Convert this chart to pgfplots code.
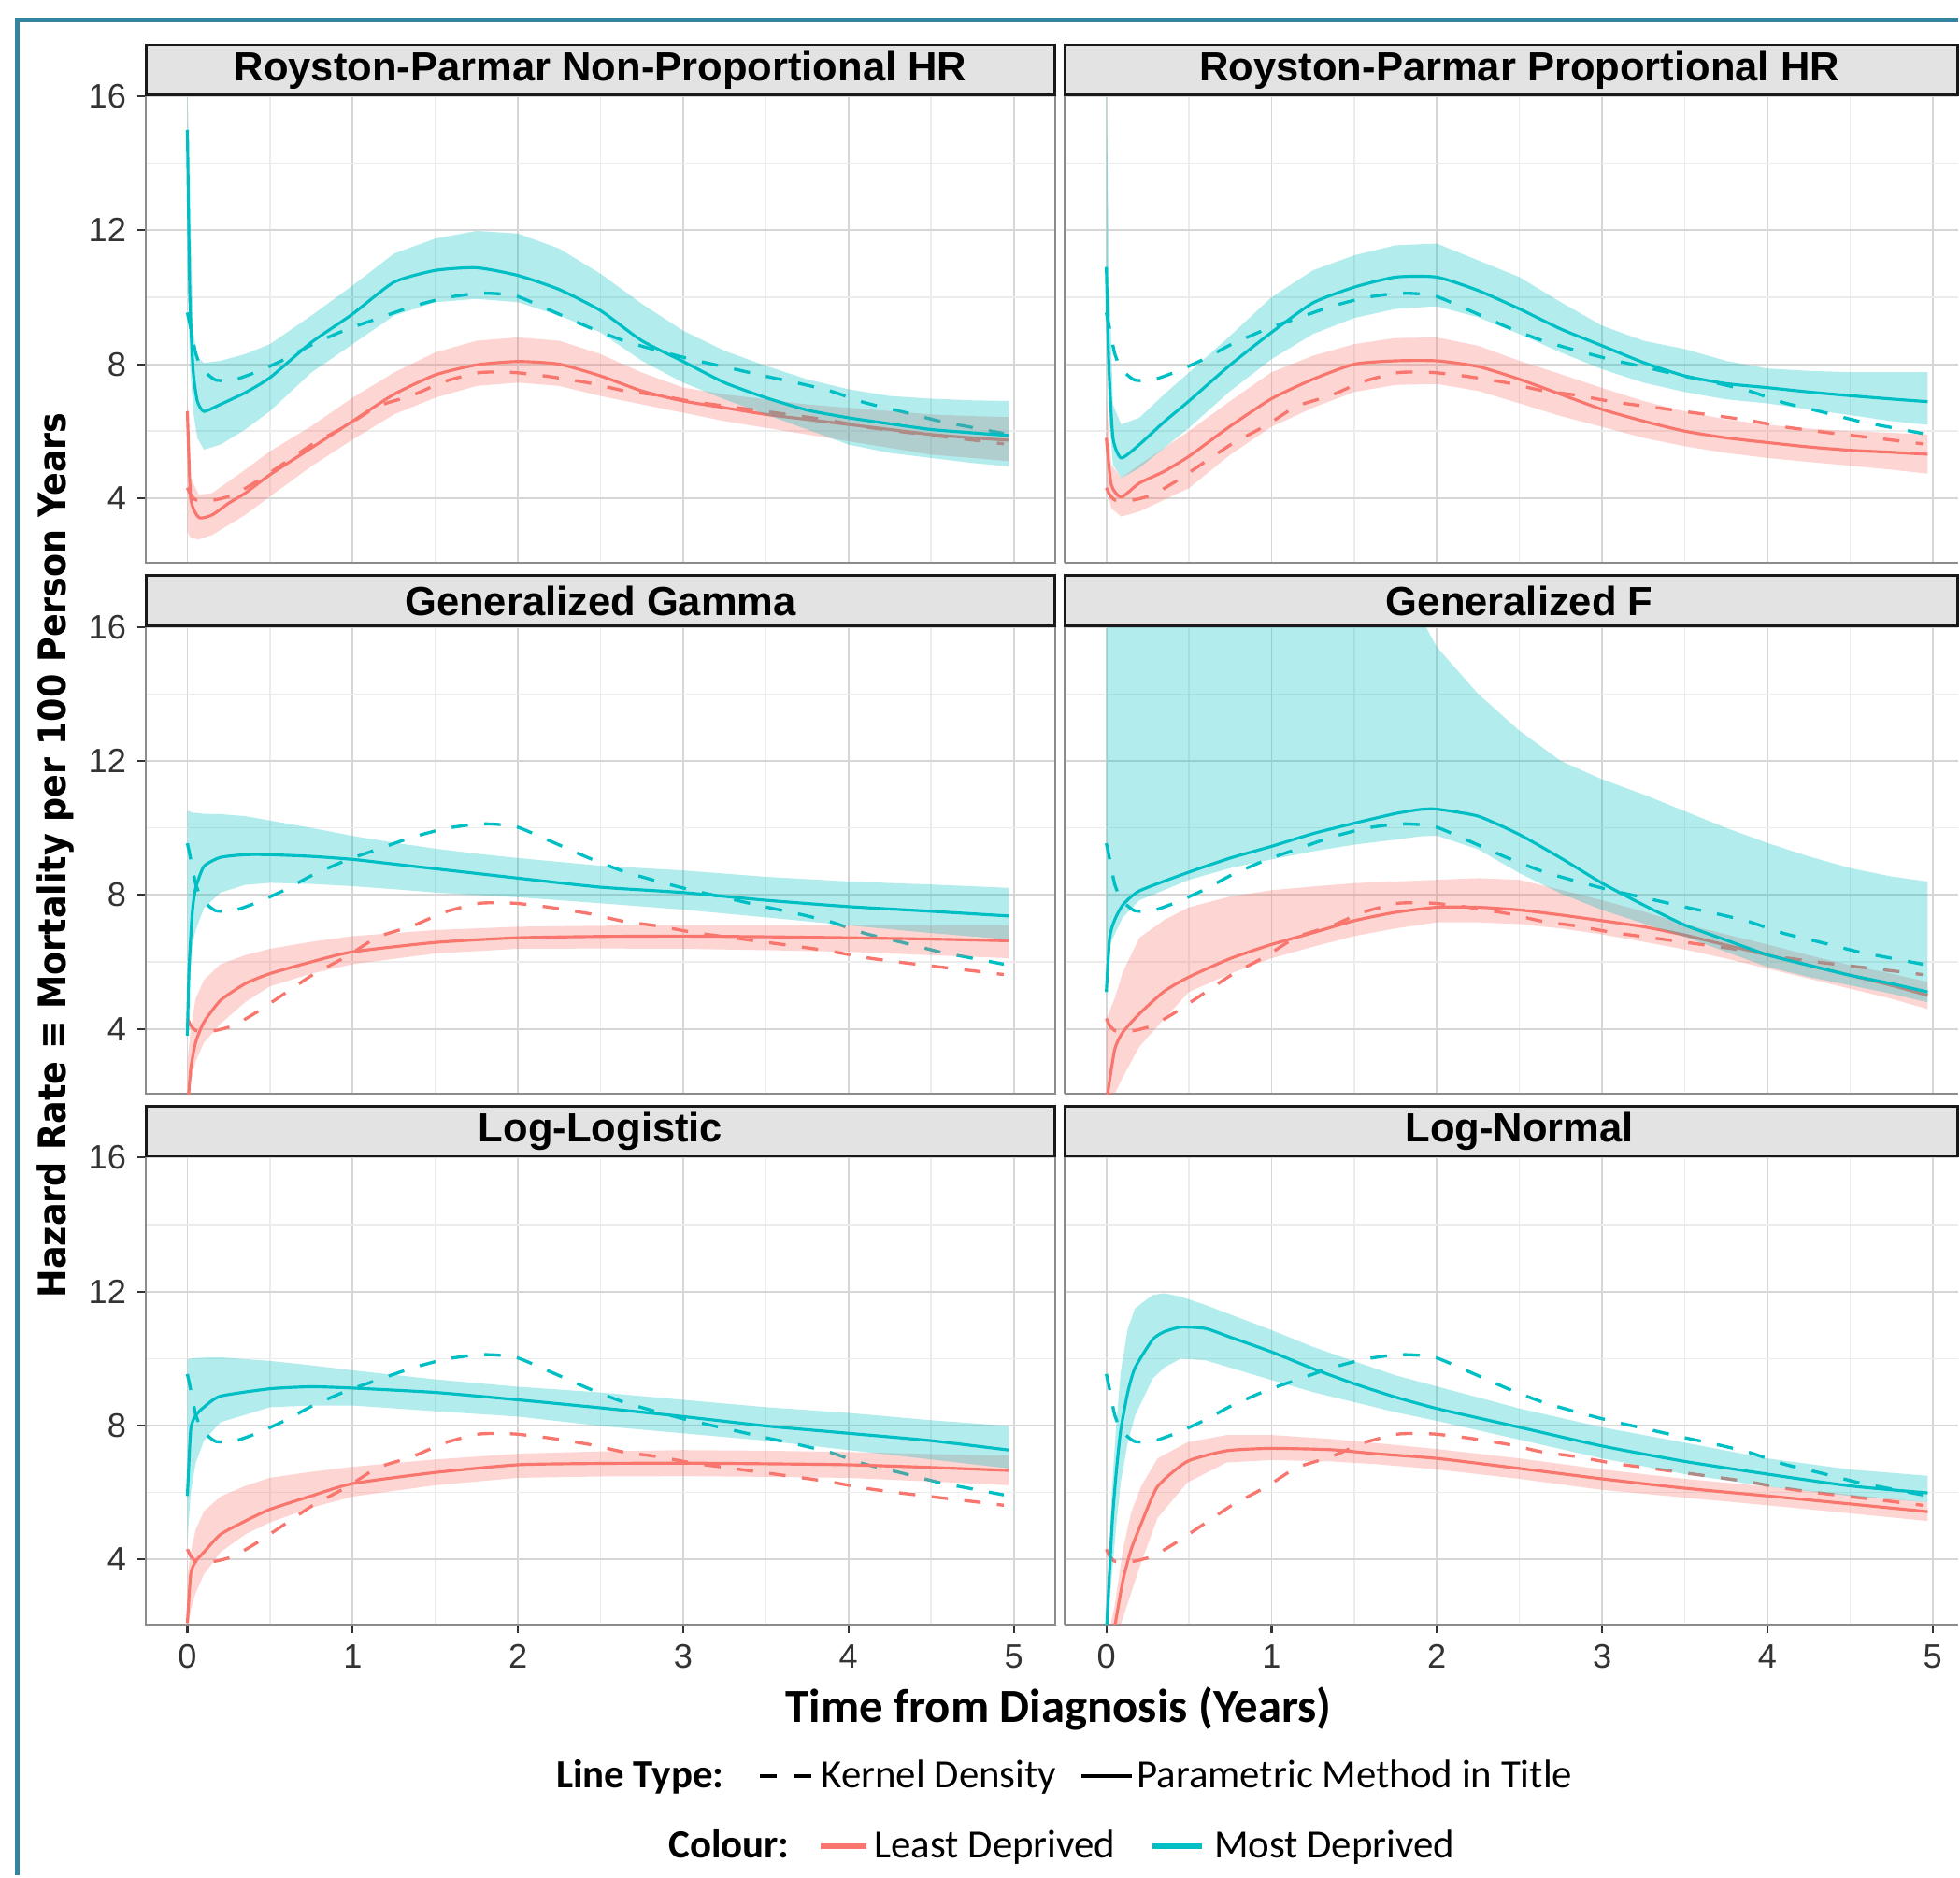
\documentclass[border=0pt]{standalone}
\usepackage{fontspec}
\setmainfont{Liberation Sans}
\newfontfamily\calibri{Carlito}
\newfontfamily\ylabfont{DejaVu Sans}[FakeStretch=0.9]
\usepackage{pgfplots}
\usepackage{pgfplotstable}
\pgfplotsset{compat=1.18}

\definecolor{ggred}{HTML}{F8766D}
\definecolor{ggteal}{HTML}{00BFC4}
\definecolor{stripgray}{HTML}{E3E3E3}
\definecolor{gridmaj}{HTML}{D6D6D6}
\definecolor{gridmin}{HTML}{ECECEC}
\definecolor{framecol}{RGB}{49,133,158}

% kernel density estimate, same in every panel
\pgfplotstableread{
x    red  teal
0.00 4.31 9.54
0.02 4.10 9.07
0.05 3.95 8.33
0.09 3.92 7.86
0.17 3.95 7.53
0.28 4.10 7.53
0.42 4.50 7.77
0.59 5.06 8.15
0.76 5.62 8.60
0.97 6.18 9.05
1.15 6.74 9.36
1.36 7.07 9.72
1.56 7.49 9.98
1.77 7.75 10.12
1.98 7.75 10.05
2.19 7.63 9.62
2.43 7.44 9.10
2.64 7.21 8.70
2.85 7.07 8.40
3.06 6.88 8.13
3.27 6.74 7.90
3.48 6.60 7.66
3.69 6.46 7.44
3.89 6.32 7.20
4.10 6.13 6.85
4.31 5.99 6.60
4.55 5.85 6.30
4.76 5.73 6.10
4.94 5.62 5.93
}\kdetab

\pgfplotsset{
  panel/.style={
    anchor=north west, scale only axis,
    width=9.736cm, height=5.015cm,
    xmin=-0.25, xmax=5.25, ymin=2.06, ymax=16.04,
    xtick={0,1,2,3,4,5}, ytick={4,8,12,16},
    minor xtick={0.5,1.5,2.5,3.5,4.5}, minor ytick={6,10,14},
    grid=both,
    major grid style={draw=gridmaj, line width=0.55pt},
    minor grid style={draw=gridmin, line width=0.45pt},
    axis line style={draw=black!45, line width=0.6pt},
    tick align=outside, tick pos=left,
    major tick length=0.09cm, minor tick length=0pt,
    tick style={black!80, line width=0.6pt},
    ticklabel style={font=\fontsize{10.3}{12}\selectfont, text=black!80},
    /pgf/number format/assume math mode=true,
    every axis title shift=0pt,
    title style={at={(0,1)}, anchor=south west, fill=stripgray, draw=black!90,
      line width=0.8pt, minimum width=9.736cm, minimum height=0.535cm,
      inner sep=0pt, outer sep=0pt,
      font=\fontsize{12.4}{14}\bfseries\selectfont, text=black},
  },
  % right column: cut off at the picture's right edge
  rightcol/.style={
    width=9.562cm, xmax=5.1517,
    axis x line*=box, axis y line*=left,
    yticklabels={}, ytick style={draw=none},
    title style={minimum width=9.562cm},
  },
  notx/.style={xticklabels={}, xtick style={draw=none}},
  ribbon/.style={draw=none, fill=#1, fill opacity=0.3, forget plot},
  fitln/.style={draw=#1, line width=0.9pt, mark=none, line join=round, smooth, tension=0.35},
  kdeln/.style={draw=#1, line width=0.95pt, mark=none, smooth, tension=0.35, dash pattern=on 5pt off 5pt},
}

\begin{document}
\begin{tikzpicture}
\path (0,0) rectangle (20.97,-20.08);

% ---------- Royston-Parmar Non-Proportional HR
\begin{axis}[panel, notx, at={(1.565cm,-1.016cm)}, title={Royston-Parmar Non-Proportional HR}]
\addplot[kdeln=ggred] table[x=x,y=red]{\kdetab};
\addplot[kdeln=ggteal] table[x=x,y=teal]{\kdetab};
\addplot[ribbon=ggred] coordinates {(0,6.9)(0.02,4.6)(0.07,4.1)(0.15,4.15)(0.25,4.5)(0.35,4.85)(0.5,5.4)(0.75,6.15)(1,7)(1.25,7.75)(1.5,8.35)(1.75,8.7)(2,8.8)(2.25,8.7)(2.5,8.3)(2.75,7.75)(3,7.3)(3.25,7.1)(3.5,6.95)(3.75,6.8)(4,6.7)(4.25,6.6)(4.5,6.5)(4.75,6.45)(4.97,6.42)
  (4.97,5.1)(4.75,5.2)(4.5,5.3)(4.25,5.5)(4,5.7)(3.75,5.9)(3.5,6.1)(3.25,6.3)(3,6.55)(2.75,6.8)(2.5,7.05)(2.25,7.35)(2,7.45)(1.75,7.35)(1.5,7)(1.25,6.5)(1,5.75)(0.75,4.95)(0.5,4.05)(0.35,3.5)(0.25,3.2)(0.15,2.9)(0.07,2.77)(0.02,2.8)(0,3.0)};
\addplot[fitln=ggred] coordinates {(0,6.6)(0.02,4.0)(0.07,3.42)(0.15,3.5)(0.25,3.85)(0.35,4.15)(0.5,4.7)(0.75,5.5)(1,6.3)(1.25,7.1)(1.5,7.68)(1.75,7.98)(2,8.08)(2.25,8.0)(2.5,7.65)(2.75,7.2)(3,6.9)(3.25,6.7)(3.5,6.5)(3.75,6.35)(4,6.2)(4.25,6.05)(4.5,5.9)(4.75,5.8)(4.97,5.73)};
\addplot[ribbon=ggteal] coordinates {(0,16.5)(0.015,13)(0.035,9)(0.06,8.2)(0.1,8.04)(0.2,8.1)(0.35,8.3)(0.5,8.6)(0.75,9.45)(1,10.35)(1.25,11.3)(1.5,11.75)(1.75,11.98)(2,11.9)(2.25,11.45)(2.5,10.7)(2.75,9.8)(3,9.0)(3.25,8.4)(3.5,7.95)(3.75,7.55)(4,7.25)(4.25,7.05)(4.5,6.97)(4.75,6.92)(4.97,6.9)
  (4.97,4.95)(4.75,5.05)(4.5,5.2)(4.25,5.35)(4,5.6)(3.75,6.05)(3.5,6.5)(3.25,6.95)(3,7.45)(2.75,8.1)(2.5,8.95)(2.25,9.45)(2,9.85)(1.75,9.95)(1.5,9.85)(1.25,9.45)(1,8.6)(0.75,7.75)(0.5,6.6)(0.35,6.05)(0.2,5.6)(0.1,5.45)(0.06,5.8)(0.035,6.6)(0.015,8)(0,11)};
\addplot[fitln=ggteal] coordinates {(0,15)(0.015,10)(0.035,7.8)(0.06,6.9)(0.1,6.59)(0.2,6.8)(0.35,7.15)(0.5,7.6)(0.75,8.65)(1,9.5)(1.25,10.45)(1.5,10.8)(1.75,10.88)(2,10.65)(2.25,10.23)(2.5,9.6)(2.75,8.7)(3,8.08)(3.25,7.45)(3.5,7.0)(3.75,6.63)(4,6.4)(4.25,6.22)(4.5,6.05)(4.75,5.95)(4.97,5.87)};
\end{axis}

% ---------- Royston-Parmar Proportional HR
\begin{axis}[panel, rightcol, notx, at={(11.408cm,-1.016cm)}, title={\hspace*{0.174cm}Royston-Parmar Proportional HR}]
\addplot[kdeln=ggred] table[x=x,y=red]{\kdetab};
\addplot[kdeln=ggteal] table[x=x,y=teal]{\kdetab};
\addplot[ribbon=ggred] coordinates {(0,7.0)(0.03,5.0)(0.09,4.6)(0.2,5.0)(0.35,5.5)(0.5,6.0)(0.75,6.9)(1,7.76)(1.25,8.25)(1.5,8.6)(1.75,8.78)(2,8.8)(2.25,8.55)(2.5,8.1)(2.75,7.7)(3,7.29)(3.25,6.9)(3.5,6.59)(3.75,6.35)(4,6.19)(4.25,6.08)(4.5,6.0)(4.75,5.95)(4.97,5.9)
  (4.97,4.73)(4.75,4.85)(4.5,4.97)(4.25,5.08)(4,5.2)(3.75,5.35)(3.5,5.55)(3.25,5.8)(3,6.13)(2.75,6.45)(2.5,6.83)(2.25,7.2)(2,7.41)(1.75,7.38)(1.5,7.17)(1.25,6.7)(1,6.13)(0.75,5.3)(0.5,4.3)(0.35,3.95)(0.2,3.6)(0.09,3.45)(0.03,3.7)(0,4.3)};
\addplot[fitln=ggred] coordinates {(0,5.8)(0.03,4.4)(0.09,4.03)(0.2,4.45)(0.35,4.8)(0.5,5.25)(0.75,6.15)(1,6.97)(1.25,7.55)(1.5,8.0)(1.75,8.1)(2,8.1)(2.25,7.93)(2.5,7.55)(2.75,7.1)(3,6.65)(3.25,6.3)(3.5,6.0)(3.75,5.8)(4,5.66)(4.25,5.53)(4.5,5.43)(4.75,5.37)(4.97,5.31)};
\addplot[ribbon=ggteal] coordinates {(0,16.5)(0.015,11)(0.04,6.8)(0.09,6.2)(0.2,6.4)(0.35,7.1)(0.5,7.75)(0.75,8.85)(1,10)(1.25,10.8)(1.5,11.25)(1.75,11.55)(2,11.6)(2.25,11.1)(2.5,10.6)(2.75,9.85)(3,9.15)(3.25,8.7)(3.5,8.45)(3.75,8.1)(4,7.87)(4.25,7.8)(4.5,7.76)(4.75,7.76)(4.97,7.76)
  (4.97,6.19)(4.75,6.3)(4.5,6.48)(4.25,6.65)(4,6.83)(3.75,6.95)(3.5,7.17)(3.25,7.45)(3,7.85)(2.75,8.35)(2.5,8.9)(2.25,9.4)(2,9.73)(1.75,9.65)(1.5,9.38)(1.25,8.9)(1,8.15)(0.75,7.2)(0.5,6.1)(0.35,5.5)(0.2,4.9)(0.09,4.6)(0.04,5.0)(0.015,6.5)(0,9.0)};
\addplot[fitln=ggteal] coordinates {(0,10.9)(0.015,8)(0.04,5.8)(0.09,5.2)(0.2,5.6)(0.35,6.28)(0.5,6.9)(0.75,7.98)(1,8.95)(1.25,9.83)(1.5,10.3)(1.75,10.6)(2,10.6)(2.25,10.2)(2.5,9.65)(2.75,9.05)(3,8.55)(3.25,8.05)(3.5,7.65)(3.75,7.42)(4,7.3)(4.25,7.17)(4.5,7.06)(4.75,6.96)(4.97,6.88)};
\end{axis}

% ---------- Generalized Gamma
\begin{axis}[panel, notx, at={(1.565cm,-6.700cm)}, title={Generalized Gamma}]
\addplot[kdeln=ggred] table[x=x,y=red]{\kdetab};
\addplot[kdeln=ggteal] table[x=x,y=teal]{\kdetab};
\addplot[ribbon=ggred] coordinates {(0,3.0)(0.02,4.0)(0.05,4.9)(0.1,5.46)(0.2,5.93)(0.35,6.2)(0.5,6.39)(0.75,6.6)(1,6.77)(1.5,6.95)(2,7.05)(2.5,7.08)(3,7.09)(3.5,7.09)(4,7.09)(4.5,7.09)(4.97,7.09)
  (4.97,6.11)(4.5,6.2)(4,6.3)(3.5,6.35)(3,6.39)(2.5,6.4)(2,6.39)(1.5,6.25)(1,5.93)(0.75,5.65)(0.5,5.27)(0.35,4.8)(0.2,4.15)(0.1,3.59)(0.05,3.03)(0.02,2.4)(0,1.0)};
\addplot[fitln=ggred] coordinates {(0,1.5)(0.02,2.8)(0.05,3.6)(0.1,4.2)(0.2,4.85)(0.35,5.35)(0.5,5.65)(0.75,6.0)(1,6.3)(1.5,6.58)(2,6.72)(2.5,6.76)(3,6.77)(3.5,6.75)(4,6.72)(4.5,6.68)(4.97,6.63)};
\addplot[ribbon=ggteal] coordinates {(0,10.5)(0.01,10.5)(0.03,10.45)(0.05,10.45)(0.1,10.42)(0.2,10.41)(0.35,10.35)(0.5,10.22)(0.75,10.0)(1,9.76)(1.25,9.56)(1.5,9.38)(1.75,9.23)(2,9.1)(2.5,8.87)(3,8.73)(3.5,8.54)(4,8.4)(4.5,8.31)(4.97,8.21)
  (4.97,6.67)(4.5,6.86)(4,7.09)(3.5,7.33)(3,7.56)(2.5,7.75)(2,7.93)(1.75,8.0)(1.5,8.07)(1.25,8.17)(1,8.26)(0.75,8.33)(0.5,8.36)(0.35,8.3)(0.2,8.07)(0.1,7.6)(0.05,6.95)(0.03,6.5)(0.01,5.0)(0,3.7)};
\addplot[fitln=ggteal] coordinates {(0,3.8)(0.01,5.8)(0.03,7.5)(0.05,8.2)(0.1,8.85)(0.2,9.12)(0.35,9.2)(0.5,9.2)(0.75,9.15)(1,9.06)(1.25,8.92)(1.5,8.78)(1.75,8.64)(2,8.5)(2.5,8.23)(3,8.07)(3.5,7.84)(4,7.65)(4.5,7.51)(4.97,7.37)};
\end{axis}

% ---------- Generalized F
\begin{axis}[panel, rightcol, notx, at={(11.408cm,-6.700cm)}, title={\hspace*{0.174cm}Generalized F}]
\addplot[kdeln=ggred] table[x=x,y=red]{\kdetab};
\addplot[kdeln=ggteal] table[x=x,y=teal]{\kdetab};
\addplot[ribbon=ggred] coordinates {(0,4.28)(0.05,4.9)(0.1,5.7)(0.2,6.72)(0.35,7.25)(0.5,7.63)(0.75,7.95)(1,8.14)(1.25,8.25)(1.5,8.35)(1.75,8.4)(2,8.45)(2.25,8.5)(2.5,8.45)(2.75,8.15)(3,7.84)(3.25,7.5)(3.5,7.13)(3.75,6.82)(4,6.52)(4.25,6.2)(4.5,5.9)(4.75,5.65)(4.97,5.4)
  (4.97,4.59)(4.75,4.9)(4.5,5.2)(4.25,5.5)(4,5.8)(3.75,6.1)(3.5,6.37)(3.25,6.6)(3,6.82)(2.75,7.0)(2.5,7.13)(2.25,7.18)(2,7.18)(1.75,7.0)(1.5,6.77)(1.25,6.45)(1,6.11)(0.75,5.65)(0.5,5.1)(0.35,4.3)(0.2,3.47)(0.1,2.56)(0.05,2.05)(0,1.5)};
\addplot[fitln=ggred] coordinates {(0,1.8)(0.05,3.37)(0.1,3.9)(0.2,4.45)(0.35,5.12)(0.5,5.55)(0.75,6.1)(1,6.52)(1.25,6.87)(1.5,7.23)(1.75,7.48)(2,7.63)(2.25,7.63)(2.5,7.55)(2.75,7.4)(3,7.23)(3.25,7.05)(3.5,6.8)(3.75,6.5)(4,6.21)(4.25,5.9)(4.5,5.6)(4.75,5.3)(4.97,5.0)};
\addplot[ribbon=ggteal] coordinates {(0,16.5)(1.75,16.5)(1.9,16.3)(2,15.4)(2.25,14.0)(2.5,12.9)(2.75,12.0)(3,11.45)(3.25,11.0)(3.5,10.5)(3.75,10.0)(4,9.55)(4.25,9.15)(4.5,8.8)(4.75,8.55)(4.97,8.4)
  (4.97,4.79)(4.75,5.05)(4.5,5.3)(4.25,5.55)(4,5.85)(3.75,6.3)(3.5,6.75)(3.25,7.15)(3,7.55)(2.75,8.04)(2.5,8.65)(2.25,9.36)(2,9.77)(1.9,9.75)(1.75,9.65)(1.5,9.5)(1.25,9.3)(1,9.06)(0.75,8.8)(0.5,8.45)(0.2,7.84)(0.1,7.33)(0.05,6.82)(0.02,6.5)(0,5.0)};
\addplot[fitln=ggteal] coordinates {(0,5.1)(0.02,6.72)(0.05,7.25)(0.1,7.7)(0.2,8.12)(0.5,8.68)(0.75,9.1)(1,9.45)(1.25,9.83)(1.5,10.14)(1.75,10.43)(1.9,10.55)(2,10.56)(2.25,10.35)(2.5,9.8)(2.75,9.1)(3,8.35)(3.25,7.7)(3.5,7.1)(3.75,6.65)(4,6.21)(4.25,5.9)(4.5,5.6)(4.75,5.35)(4.97,5.1)};
\end{axis}

% ---------- Log-Logistic
\begin{axis}[panel, at={(1.565cm,-12.384cm)}, title={Log-Logistic}]
\addplot[kdeln=ggred] table[x=x,y=red]{\kdetab};
\addplot[kdeln=ggteal] table[x=x,y=teal]{\kdetab};
\addplot[ribbon=ggred] coordinates {(0,3.5)(0.02,4.2)(0.05,4.89)(0.1,5.44)(0.2,5.88)(0.35,6.2)(0.5,6.44)(0.75,6.62)(1,6.77)(1.5,6.99)(2,7.16)(2.5,7.23)(3,7.27)(3.5,7.25)(4,7.21)(4.5,7.15)(4.97,7.1)
  (4.97,6.22)(4.5,6.33)(4,6.44)(3.5,6.47)(3,6.49)(2.5,6.48)(2,6.44)(1.5,6.22)(1,5.88)(0.75,5.55)(0.5,5.11)(0.35,4.75)(0.2,4.22)(0.1,3.56)(0.05,3.0)(0.02,2.5)(0,1.8)};
\addplot[fitln=ggred] coordinates {(0,2.1)(0.02,3.56)(0.05,3.95)(0.1,4.22)(0.2,4.75)(0.35,5.15)(0.5,5.5)(0.75,5.9)(1,6.27)(1.5,6.6)(2,6.83)(2.5,6.87)(3,6.88)(3.5,6.86)(4,6.83)(4.5,6.75)(4.97,6.66)};
\addplot[ribbon=ggteal] coordinates {(0,9.99)(0.02,10.0)(0.05,10.02)(0.1,10.03)(0.2,10.04)(0.5,9.93)(0.75,9.8)(1,9.65)(1.5,9.38)(2,9.16)(2.5,8.99)(3,8.77)(3.5,8.55)(4,8.38)(4.5,8.16)(4.97,7.99)
  (4.97,6.72)(4.5,6.99)(4,7.27)(3.5,7.55)(3,7.77)(2.5,7.99)(2,8.27)(1.5,8.43)(1,8.6)(0.75,8.6)(0.5,8.55)(0.2,8.1)(0.1,7.55)(0.05,6.88)(0.02,6.0)(0,4.5)};
\addplot[fitln=ggteal] coordinates {(0,5.9)(0.02,7.88)(0.05,8.3)(0.1,8.55)(0.2,8.88)(0.5,9.1)(0.75,9.16)(1,9.12)(1.5,8.99)(2,8.77)(2.5,8.53)(3,8.27)(3.5,7.99)(4,7.77)(4.5,7.55)(4.97,7.27)};
\end{axis}

% ---------- Log-Normal
\begin{axis}[panel, rightcol, at={(11.408cm,-12.384cm)}, title={\hspace*{0.174cm}Log-Normal}]
\addplot[kdeln=ggred] table[x=x,y=red]{\kdetab};
\addplot[kdeln=ggteal] table[x=x,y=teal]{\kdetab};
\addplot[ribbon=ggred] coordinates {(0,1.5)(0.05,2.6)(0.1,4.3)(0.15,5.4)(0.21,6.18)(0.31,7.02)(0.49,7.5)(0.73,7.72)(1,7.72)(1.36,7.6)(1.63,7.48)(2,7.3)(2.5,7.02)(3,6.69)(3.5,6.41)(4,6.18)(4.5,5.94)(4.97,5.71)
  (4.97,5.15)(4.5,5.38)(4,5.62)(3.5,5.85)(3,6.08)(2.5,6.41)(2,6.69)(1.63,6.85)(1.36,6.93)(1,6.97)(0.73,6.9)(0.49,6.3)(0.31,5.24)(0.21,3.9)(0.15,3.0)(0.1,2.25)(0.05,1.5)(0,1.0)};
\addplot[fitln=ggred] coordinates {(0,1.2)(0.05,2.0)(0.1,3.37)(0.15,4.3)(0.21,5.06)(0.31,6.18)(0.49,6.93)(0.73,7.25)(1,7.32)(1.36,7.28)(1.63,7.16)(2,7.02)(2.5,6.72)(3,6.41)(3.5,6.13)(4,5.9)(4.5,5.66)(4.97,5.43)};
\addplot[ribbon=ggteal] coordinates {(0,2.2)(0.035,6.2)(0.06,8.0)(0.087,9.6)(0.13,10.9)(0.174,11.5)(0.28,11.9)(0.35,11.95)(0.45,11.85)(0.6,11.6)(0.75,11.32)(1,10.85)(1.25,10.35)(1.5,9.92)(1.75,9.5)(2,9.17)(2.5,8.51)(3,7.95)(3.5,7.49)(4,7.02)(4.5,6.69)(4.97,6.5)
  (4.97,5.71)(4.5,5.9)(4,6.18)(3.5,6.55)(3,7.02)(2.5,7.58)(2,8.14)(1.75,8.4)(1.5,8.7)(1.25,9.0)(1,9.36)(0.75,9.73)(0.6,9.95)(0.45,10.0)(0.35,9.73)(0.28,9.4)(0.174,8.3)(0.13,7.5)(0.087,6.3)(0.06,5.0)(0.035,3.6)(0,1.5)};
\addplot[fitln=ggteal] coordinates {(0,1.8)(0.035,5.06)(0.06,6.6)(0.087,7.86)(0.13,9.0)(0.174,9.73)(0.28,10.57)(0.35,10.8)(0.45,10.94)(0.6,10.9)(0.75,10.64)(1,10.2)(1.25,9.7)(1.5,9.25)(1.75,8.85)(2,8.51)(2.5,7.95)(3,7.39)(3.5,6.93)(4,6.55)(4.5,6.2)(4.97,5.99)};
\end{axis}

% axis titles
\node[rotate=90, font=\ylabfont\bfseries\fontsize{11.55}{13}\selectfont] at (0.60,-9.16)
  {Hazard Rate ≡ Mortality per 100 Person Years};
\node[anchor=base, inner sep=0pt, font=\calibri\bfseries\fontsize{14.45}{16}\selectfont] at (11.34,-18.45)
  {Time from Diagnosis (Years)};

% legend
\node[anchor=base west, inner sep=0pt, font=\calibri\bfseries\fontsize{12.2}{14}\selectfont] at (5.95,-19.15) {Line Type:};
\draw[black, line width=1.2pt, dash pattern=on 0.18cm off 0.19cm] (8.14,-19.02) -- (8.69,-19.02);
\node[anchor=base west, inner sep=0pt, font=\calibri\fontsize{12.2}{14}\selectfont] at (8.79,-19.15) {Kernel Density};
\draw[black, line width=1.2pt] (11.58,-19.02) -- (12.12,-19.02);
\node[anchor=base west, inner sep=0pt, font=\calibri\fontsize{12.2}{14}\selectfont] at (12.17,-19.15) {Parametric Method in Title};

\node[anchor=base west, inner sep=0pt, font=\calibri\bfseries\fontsize{12.2}{14}\selectfont] at (7.155,-19.90) {Colour:};
\draw[ggred, line width=1.6pt] (8.79,-19.77) -- (9.28,-19.77);
\node[anchor=base west, inner sep=0pt, font=\calibri\fontsize{12.2}{14}\selectfont] at (9.36,-19.90) {Least Deprived};
\draw[ggteal, line width=1.6pt] (12.34,-19.77) -- (12.88,-19.77);
\node[anchor=base west, inner sep=0pt, font=\calibri\fontsize{12.2}{14}\selectfont] at (13.00,-19.90) {Most Deprived};

% outer frame (its right and bottom sides lie outside the picture)
\draw[framecol, line width=0.05cm, line cap=butt] (20.97,-0.22) -- (0.185,-0.22) -- (0.185,-20.08);
\end{tikzpicture}
\end{document}
